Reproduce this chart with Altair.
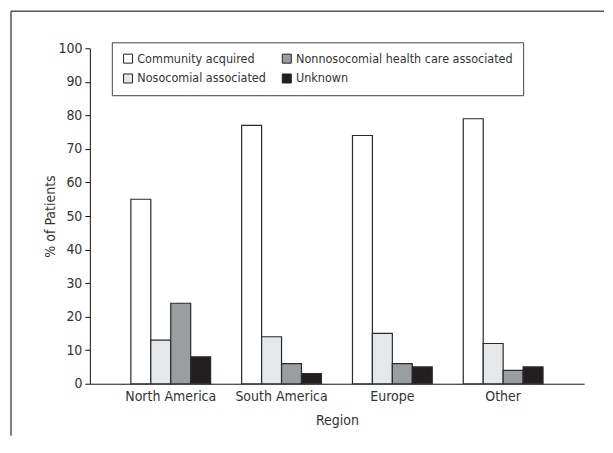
import altair as alt
import pandas as pd

regions = ["North America", "South America", "Europe", "Other"]
series = ["Community acquired", "Nosocomial associated",
          "Nonnosocomial health care associated", "Unknown"]
colors = ["#ffffff", "#e6e7e8", "#9b9ea0", "#231f20"]

community = [55, 77, 74, 79]
nosocomial = [13, 14, 15, 12]
nonnosocomial = [24, 6, 6, 4]
unknown = [8, 3, 5, 5]

rows = []
for i, r in enumerate(regions):
    for s, vals in zip(series, [community, nosocomial, nonnosocomial, unknown]):
        rows.append({"Region": r, "Type": s, "Pct": vals[i]})
df = pd.DataFrame(rows)

FONT = "DejaVu Sans Condensed, Roboto, sans-serif"
FS = 14

bars = alt.Chart(df).mark_bar(stroke="#2a2a2a", strokeWidth=1.2).encode(
    x=alt.X("Region:N", sort=regions,
            scale=alt.Scale(paddingInner=0.28, paddingOuter=0.37),
            axis=alt.Axis(title="Region", labelAngle=0, ticks=False, labelPadding=6,
                          titleY=37, titleBaseline="middle")),
    xOffset=alt.XOffset("Type:N", sort=series),
    y=alt.Y("Pct:Q", scale=alt.Scale(domain=[0, 100]),
            axis=alt.Axis(title="% of Patients", values=list(range(0, 101, 10)),
                          grid=False, tickSize=5, labelPadding=3,
                          titleX=-39, titleY=168, titleBaseline="middle")),
    fill=alt.Fill("Type:N",
                  scale=alt.Scale(domain=series, range=colors),
                  legend=alt.Legend(title=None, orient="none", legendX=22, legendY=-6,
                                    columns=2, symbolType="square", symbolSize=81,
                                    symbolStrokeColor="#222", symbolStrokeWidth=1,
                                    strokeColor="#444", fillColor="white", padding=10,
                                    columnPadding=13, rowPadding=6, labelOffset=3,
                                    labelLimit=400)),
)

frame_data = alt.Data(values=[{"a": 1}])
vline = alt.Chart(frame_data).mark_rule(color="#555", strokeWidth=1.5).encode(
    x=alt.value(-79), y=alt.value(-37), y2=alt.value(388))
hline = alt.Chart(frame_data).mark_rule(color="#555", strokeWidth=1.5).encode(
    x=alt.value(-79), x2=alt.value(515), y=alt.value(-37))

chart = alt.layer(bars, vline, hline).properties(
    width=495, height=336, padding={"left": 2, "top": 2, "right": 0, "bottom": 0}
).configure_view(stroke=None).configure_axis(
    labelFont=FONT, titleFont=FONT, labelFontSize=FS, titleFontSize=FS,
    titleFontWeight="normal", labelColor="#333", titleColor="#333",
    domainColor="#111", tickColor="#111"
).configure_legend(labelFont=FONT, labelFontSize=12.5, labelColor="#333")

chart.save("out.html", embed_options={"renderer": "svg", "actions": False})
